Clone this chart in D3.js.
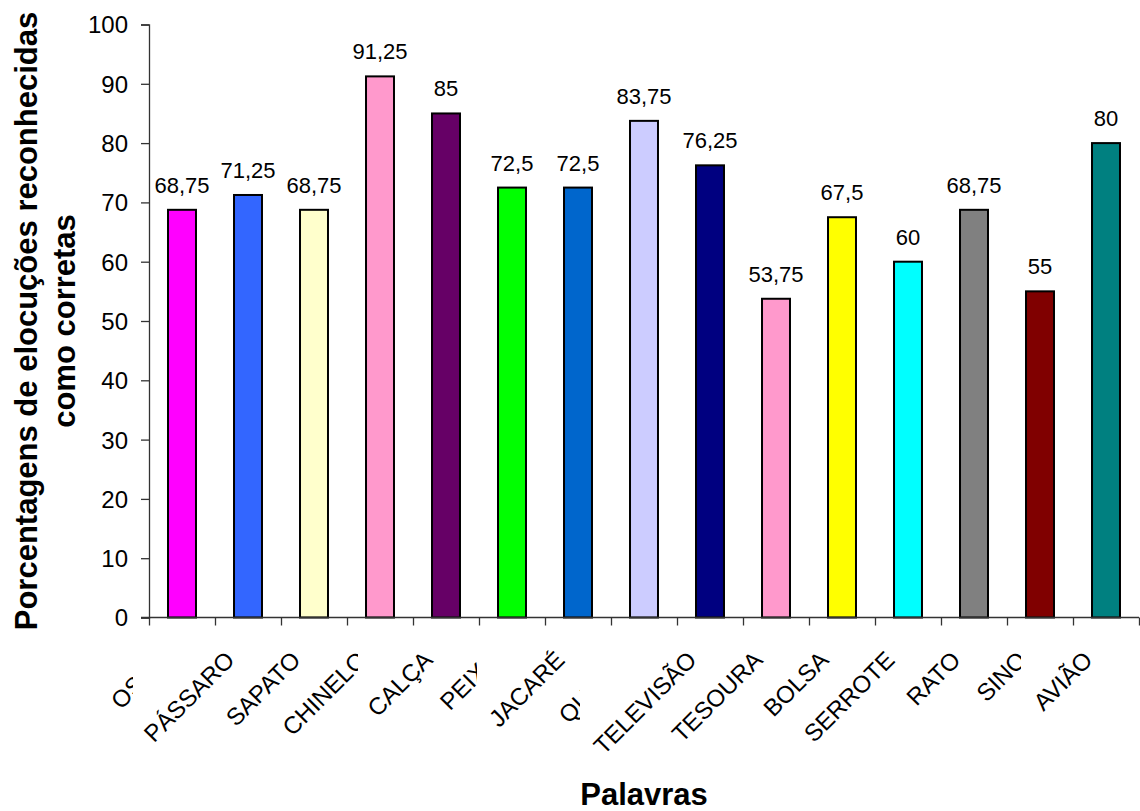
<!DOCTYPE html>
<html>
<head>
<meta charset="utf-8">
<script src="https://cdn.jsdelivr.net/npm/d3@7"></script>
<style>
  html, body { margin: 0; padding: 0; background: #fff; }
  svg { display: block; font-family: Arial, "Liberation Sans", sans-serif; }
</style>
</head>
<body>
<svg id="chart" width="1140" height="811"></svg>
<script>
// ---- data ----
const categories = ["OSSO", "PÁSSARO", "SAPATO", "CHINELO", "CALÇA", "PEIXE", "JACARÉ", "QUEIJO",
                    "TELEVISÃO", "TESOURA", "BOLSA", "SERROTE", "RATO", "SINO", "AVIÃO"];
const values = [68.75, 71.25, 68.75, 91.25, 85, 72.5, 72.5, 83.75, 76.25, 53.75, 67.5, 60, 68.75, 55, 80];
const yTicks = [0, 10, 20, 30, 40, 50, 60, 70, 80, 90, 100];
const yTitleLines = ["Porcentagens de elocuções reconhecidas", "como corretas"];
const xTitle = "Palavras";

// ---- styles ----
const barColors = ["#FF00FF", "#3366FF", "#FFFFCC", "#FF99CC", "#660066", "#00FF00", "#0066CC", "#CCCCFF",
                   "#000080", "#FF99CC", "#FFFF00", "#00FFFF", "#808080", "#800000", "#008080"];
// Excel truncated some overlapping category labels: clip at (band center + offset)
const labelClip = { "OSSO": -49, "CHINELO": -22, "PEIXE": -35, "QUEIJO": -64, "SINO": -19 };

const margin = { left: 149, right: 1139, top: 24.5, bottom: 617.5 };
const svg = d3.select("#chart");

const x = d3.scaleBand().domain(categories).range([margin.left, margin.right])
  .paddingInner(0.576).paddingOuter(0.288);
const xb = d3.scaleBand().domain(categories).range([margin.left, margin.right]);
const y = d3.scaleLinear().domain([0, 100]).range([margin.bottom, margin.top]);

const fmt = d3.formatLocale({ decimal: ",", thousands: ".", grouping: [3], currency: ["R$", ""] }).format(".6~g");

// bars
svg.append("g").selectAll("rect").data(values).join("rect")
  .attr("x", (d, i) => x(categories[i]))
  .attr("y", d => y(d))
  .attr("width", x.bandwidth())
  .attr("height", d => y(0) - y(d))
  .attr("fill", (d, i) => barColors[i])
  .attr("stroke", "#000")
  .attr("stroke-width", 2);

// data labels
svg.append("g").selectAll("text").data(values).join("text")
  .attr("x", (d, i) => xb(categories[i]) + xb.bandwidth() / 2)
  .attr("y", d => y(d) - 17)
  .attr("text-anchor", "middle")
  .attr("font-size", 22)
  .attr("fill", "#000")
  .text(d => fmt(d));

// y axis
const yAxis = d3.axisLeft(y).tickValues(yTicks).tickSize(8).tickPadding(13).tickFormat(d3.format("d"));
const gy = svg.append("g").attr("transform", `translate(${margin.left},0)`).call(yAxis);
gy.select(".domain").attr("stroke", "#333").attr("stroke-width", 1.3);
gy.selectAll(".tick line").attr("stroke", "#333").attr("stroke-width", 1.3);
gy.selectAll(".tick text").attr("font-size", 24).attr("fill", "#000")
  .attr("font-family", "Arial, 'Liberation Sans', sans-serif").attr("dy", "0.35em");

// x axis (ticks at band boundaries)
const boundaries = d3.range(categories.length + 1).map(i => margin.left + i * xb.step());
const xLin = d3.scaleLinear().domain([margin.left, margin.right]).range([margin.left, margin.right]);
const gx = svg.append("g").attr("transform", `translate(0,${margin.bottom})`)
  .call(d3.axisBottom(xLin).tickValues(boundaries).tickSize(8).tickSizeOuter(0).tickFormat(""));
gx.select(".domain").attr("stroke", "#333").attr("stroke-width", 1.3)
  .attr("d", `M${margin.left - 8},0H${margin.right}`);
gx.selectAll(".tick line").attr("stroke", "#333").attr("stroke-width", 1.3);

// x category labels (rotated -45°)
const defs = svg.append("defs");
const lbl = svg.append("g");
categories.forEach((c, i) => {
  const cx = xb(c) + xb.bandwidth() / 2;
  const g = lbl.append("g");
  if (labelClip[c] !== undefined) {
    const id = "clip" + i;
    defs.append("clipPath").attr("id", id).append("rect")
      .attr("x", 0).attr("y", 0).attr("width", cx + labelClip[c]).attr("height", 811);
    g.attr("clip-path", `url(#${id})`);
  }
  g.append("text")
    .attr("transform", `translate(${cx - 12},${margin.bottom + 44}) rotate(-45)`)
    .attr("text-anchor", "end")
    .attr("font-size", 24)
    .attr("fill", "#000")
    .text(c);
});

// y title
const yt = svg.append("text")
  .attr("transform", `translate(37,${(margin.top + margin.bottom) / 2}) rotate(-90)`)
  .attr("text-anchor", "middle")
  .attr("font-size", 31)
  .attr("font-weight", "bold")
  .attr("fill", "#000");
yt.selectAll("tspan").data(yTitleLines).join("tspan")
  .attr("x", 0)
  .attr("dy", (d, i) => i === 0 ? 0 : 38)
  .text(d => d);

// x title
svg.append("text")
  .attr("x", (margin.left + margin.right) / 2)
  .attr("y", 805)
  .attr("text-anchor", "middle")
  .attr("font-size", 31)
  .attr("font-weight", "bold")
  .attr("fill", "#000")
  .text(xTitle);
</script>
</body>
</html>
